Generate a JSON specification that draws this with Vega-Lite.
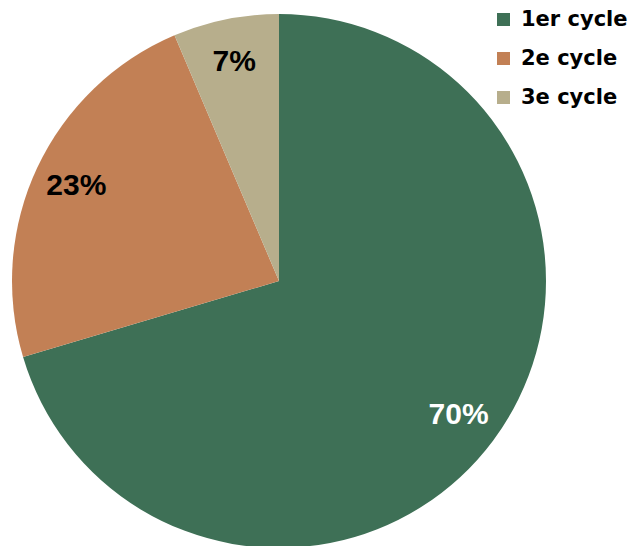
{
  "$schema": "https://vega.github.io/schema/vega-lite/v6.json",
  "width": 558,
  "height": 562,
  "autosize": {"type": "none"},
  "padding": {"left": 0, "top": 0, "right": 82, "bottom": 0},
  "background": "white",
  "config": {"view": {"stroke": null}},
  "data": {"values": [
    {"cycle": "1er cycle", "share": 70.4, "label": "70%"},
    {"cycle": "2e cycle", "share": 23.2, "label": "23%"},
    {"cycle": "3e cycle", "share": 6.4, "label": "7%"}
  ]},
  "encoding": {
    "theta": {"field": "share", "type": "quantitative", "stack": true},
    "order": {"field": "cycle", "type": "nominal", "sort": "ascending"},
    "detail": {"field": "cycle", "type": "nominal"}
  },
  "layer": [
    {
      "mark": {"type": "arc", "outerRadius": 267, "stroke": null},
      "encoding": {
        "color": {
          "field": "cycle", "type": "nominal",
          "scale": {"domain": ["1er cycle", "2e cycle", "3e cycle"], "range": ["#3e7056", "#c28055", "#b7ae8c"]},
          "legend": {
            "title": null, "orient": "none", "legendX": 493, "legendY": 9,
            "symbolType": "square", "symbolSize": 169, "symbolStrokeWidth": 0,
            "labelFont": "DejaVu Sans", "labelFontSize": 21, "labelFontWeight": "bold",
            "labelColor": "#000000", "rowPadding": 17, "labelOffset": 7, "labelLimit": 300
          }
        }
      }
    },
    {
      "mark": {"type": "text", "radius": 224, "font": "Liberation Sans", "fontSize": 30, "fontWeight": "bold"},
      "encoding": {
        "text": {"field": "label", "type": "nominal"},
        "color": {"condition": {"test": "datum.cycle === '1er cycle'", "value": "#ffffff"}, "value": "#000000"}
      }
    }
  ]
}
